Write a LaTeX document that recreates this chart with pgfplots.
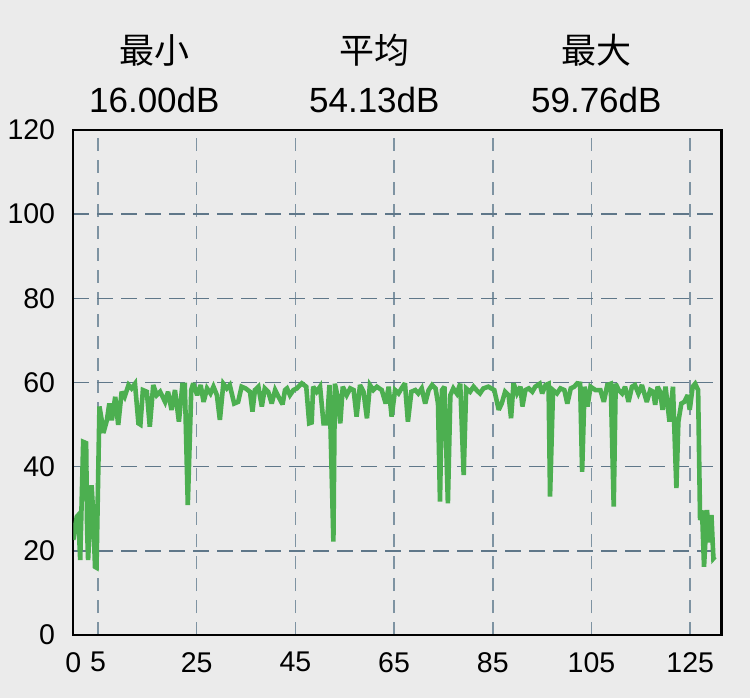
\documentclass[border=0pt]{standalone}
\usepackage{pgfplots}
\pgfplotsset{compat=1.18}
\usepackage{fontspec}
\setmainfont{Liberation Sans}
\newfontfamily\cjk{Noto Sans CJK SC}
\definecolor{bgc}{HTML}{EBEBEB}
\definecolor{hgrid}{HTML}{5F7789}
\definecolor{vgrid}{HTML}{7E93A2}
\definecolor{linec}{HTML}{4CAF50}
\begin{document}
\begin{tikzpicture}
\fill[bgc] (-73.3bp,-63bp) rectangle (676.7bp,635bp);
\useasboundingbox (-73.3bp,-63bp) rectangle (676.7bp,635bp);
\begin{axis}[
  at={(0,0)}, anchor=south west, scale only axis,
  width=648bp, height=505bp,
  xmin=0, xmax=131.3, ymin=0, ymax=120,
  xtick={0,5,25,45,65,85,105,125},
  ytick={0,20,40,60,80,100,120},
  axis line style={line width=2.4bp, black},
  major tick length=0pt,
  xmajorgrids, ymajorgrids,
  major x grid style={vgrid, line width=1.5bp, dash pattern=on 13bp off 9bp},
  major y grid style={hgrid, line width=1.5bp, dash pattern=on 16bp off 8bp},
  tick label style={font=\fontsize{28.5bp}{30bp}\selectfont, text=black},
  /pgf/number format/assume math mode=true,
  xticklabel style={anchor=north, yshift=-17bp, inner sep=0pt},
  yticklabel style={anchor=east, xshift=-18bp, inner sep=0pt},
]
\addplot[linec, line width=4.6bp, line join=miter, miter limit=3] coordinates {
(0,22.6) (0.7,28.1) (1.0,28.5) (1.4,17.8) (2.0,45.9) (2.6,45.6) (2.8,25) (3.0,17.8)
(3.7,35.6) (4.0,29.7) (4.4,16.2) (4.7,16.0) (5.3,54.3) (5.75,51.1) (6.1,48) (6.8,51)
(7.3,55) (7.8,51) (8.5,56.6) (9.1,49.9) (9.8,57.8) (10.4,56.6) (11.2,59.4) (11.8,58.6)
(12.5,59.7) (13.2,50.3) (13.6,50) (14.1,58.2) (14.9,57.8) (15.5,49.5) (16.2,59.4) (16.9,57)
(17.6,57.8) (18.6,55.4) (19.2,57.8) (19.9,53.5) (20.6,58.2) (21.4,50.7) (22.1,59.4) (22.6,59.4)
(23.2,30.9) (23.9,58.2) (24.3,59.8) (25.1,57) (25.8,59.4) (26.4,55.4) (27.1,58.6) (27.8,57.4)
(28.4,59) (29.1,57) (29.7,51.1) (30.4,59.7) (31.1,58.6) (31.7,59.4) (32.6,55) (33.4,55.4)
(34.1,59) (34.9,58.6) (35.8,57.8) (36.3,53.1) (36.8,58.2) (37.5,59) (38.2,54.3) (38.8,58.6)
(39.5,57.8) (40.2,55) (40.9,58.2) (41.5,56.8) (42.4,54.8) (42.9,58.2) (43.3,58.6) (43.9,57)
(44.6,58.2) (45.3,58.6) (46.3,59.8) (47.2,59) (47.8,50.3) (48.3,50.5) (48.6,59) (49.3,57.8)
(50,59) (50.7,50.3) (51.4,50.3) (51.9,59.4) (52.7,22.2) (53.0,59.7) (53.5,57) (54.1,50.3)
(54.6,59) (55.4,57) (56.1,58.6) (56.8,58.2) (57.4,51.9) (58.1,59.4) (58.8,57.8) (59.5,51.5)
(60.1,59.4) (60.8,58.2) (61.5,59) (62.5,58.2) (63.3,55) (63.9,59) (64.5,51.9) (65.2,58.2)
(65.9,57.4) (66.5,58.6) (67.2,59.8) (67.8,50.7) (68.5,57.8) (69.3,58.2) (69.9,57.4) (70.6,58.6)
(71.3,55) (72,58.2) (72.7,59.4) (73.4,58.6) (73.9,55) (74.3,31.7) (74.7,58.2) (75.2,59)
(75.9,31.3) (76.4,57) (77,58.6) (77.7,57.4) (78.4,59.7) (79.1,38) (79.6,58.6) (80.4,57.8)
(81.1,59) (81.7,58.2) (82.4,57.4) (83.1,58.6) (84.1,59) (84.7,58.6) (85.3,58.2) (86.2,53.5)
(86.8,55) (87.5,57.8) (88.2,57) (88.7,51.5) (89.2,59.8) (89.9,57.4) (90.6,59) (91.0,54.3)
(91.6,58.2) (92.3,58.6) (93,57.8) (93.6,59) (94.5,59.7) (95,57.4) (95.7,59.4) (96.3,59.7)
(96.6,32.9) (97.2,58.2) (98,57.4) (98.7,58.6) (99.5,58.2) (100.1,55) (100.8,58.6) (101.5,59)
(102.1,59.8) (102.7,59.7) (103.1,38.8) (103.6,59) (104.2,54.3) (104.8,59) (105.8,58.2) (106.8,58.2)
(107.5,55.4) (108.2,59.4) (108.9,59.7) (109.5,30.5) (109.9,59.7) (110.5,58.2) (111.2,57.4) (111.8,59)
(112.5,55.4) (113.2,59) (113.8,59.4) (114.5,57.4) (115.2,59.4) (116.2,55.4) (116.9,58.2) (117.5,57.8)
(117.9,54.7) (118.4,59) (118.9,57.8) (119.4,53.5) (120,59) (120.8,50.7) (121.5,59) (122.2,34.9)
(122.6,50.7) (123.2,55) (123.8,55.4) (124.5,57) (124.9,53.5) (125.5,59) (126,59.7) (126.6,58.2)
(127,27.3) (127.4,29.6) (127.8,16.2) (128.4,29.7) (128.9,22) (129.3,28.5) (129.7,18.2) (130,18.6)
};
\end{axis}
\node[font=\cjk\fontsize{35bp}{38bp}\selectfont, inner sep=0pt] at (81bp,585bp) {最小};
\node[font=\cjk\fontsize{35bp}{38bp}\selectfont, inner sep=0pt] at (301bp,585bp) {平均};
\node[font=\cjk\fontsize{35bp}{38bp}\selectfont, inner sep=0pt] at (523bp,585bp) {最大};
\node[font=\fontsize{35bp}{38bp}\selectfont, inner sep=0pt] at (81bp,535bp) {16.00dB};
\node[font=\fontsize{35bp}{38bp}\selectfont, inner sep=0pt] at (301bp,535bp) {54.13dB};
\node[font=\fontsize{35bp}{38bp}\selectfont, inner sep=0pt] at (523bp,535bp) {59.76dB};
\end{tikzpicture}
\end{document}
